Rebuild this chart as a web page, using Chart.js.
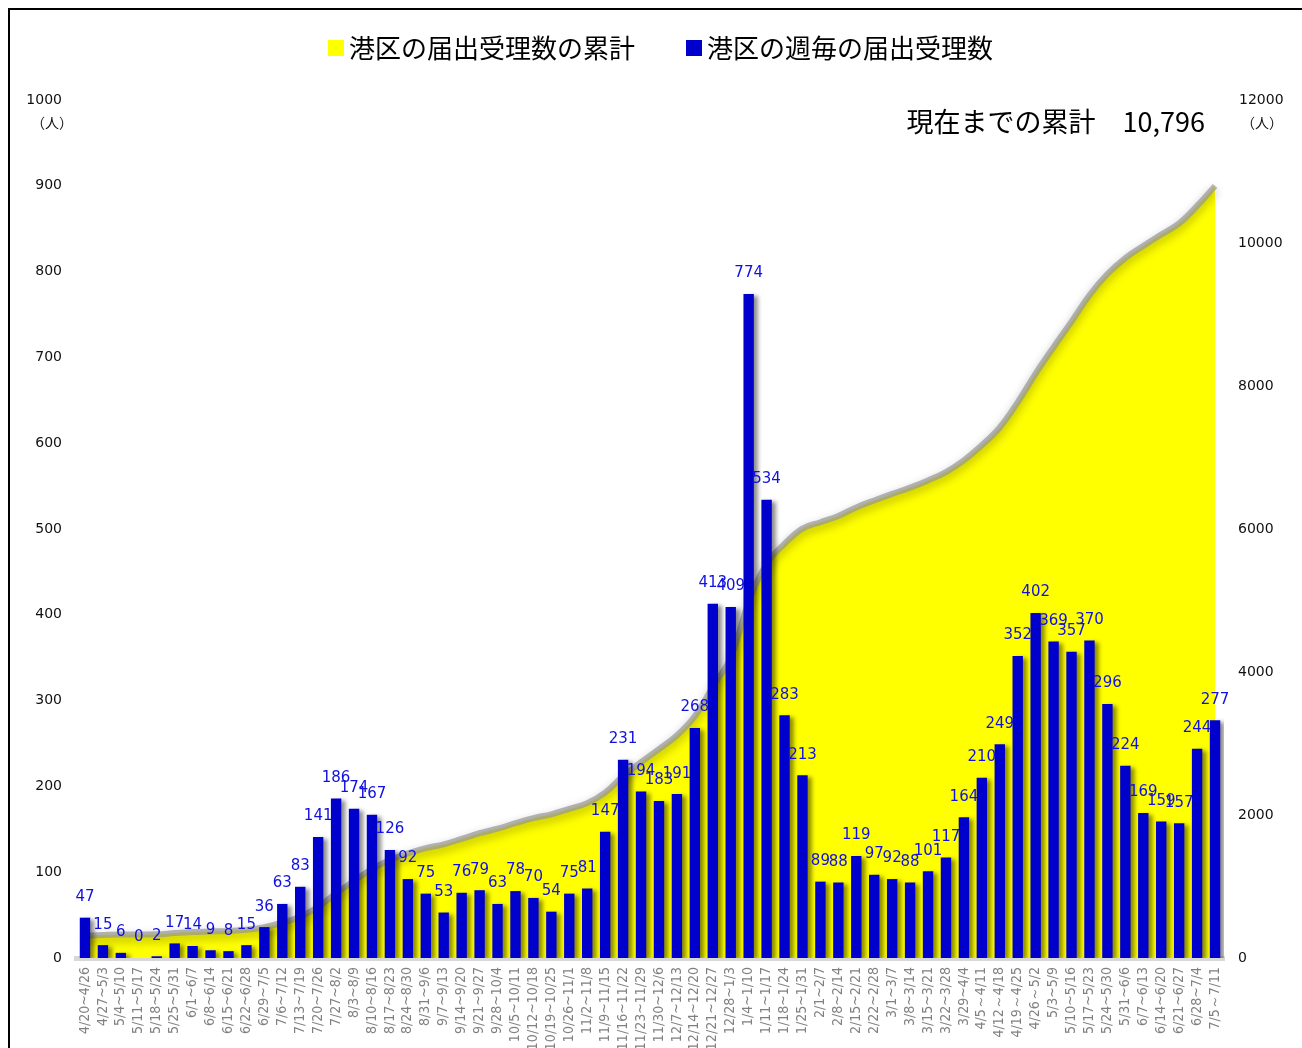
<!DOCTYPE html>
<html>
<head>
<meta charset="utf-8">
<script src="https://cdn.jsdelivr.net/npm/chart.js@4.4.1/dist/chart.umd.min.js"></script>
<style>
  body { margin: 0; background: #fff; }
  #wrap { position: relative; width: 1302px; height: 1048px; }
</style>
</head>
<body>
<div id="wrap"><canvas id="minatoChart" width="1302" height="1048"></canvas></div>
<script>
// 週ラベル
var weeks = [
  "4/20~4/26","4/27~5/3","5/4~5/10","5/11~5/17","5/18~5/24","5/25~5/31","6/1~6/7","6/8~6/14",
  "6/15~6/21","6/22~6/28","6/29~7/5","7/6~7/12","7/13~7/19","7/20~7/26","7/27~8/2","8/3~8/9",
  "8/10~8/16","8/17~8/23","8/24~8/30","8/31~9/6","9/7~9/13","9/14~9/20","9/21~9/27","9/28~10/4",
  "10/5~10/11","10/12~10/18","10/19~10/25","10/26~11/1","11/2~11/8","11/9~11/15","11/16~11/22","11/23~11/29",
  "11/30~12/6","12/7~12/13","12/14~12/20","12/21~12/27","12/28~1/3","1/4~1/10","1/11~1/17","1/18~1/24",
  "1/25~1/31","2/1~2/7","2/8~2/14","2/15~2/21","2/22~2/28","3/1~3/7","3/8~3/14","3/15~3/21",
  "3/22~3/28","3/29~4/4","4/5～4/11","4/12～4/18","4/19～4/25","4/26～5/2","5/3~5/9","5/10~5/16",
  "5/17~5/23","5/24~5/30","5/31~6/6","6/7~6/13","6/14~6/20","6/21~6/27","6/28~7/4","7/5～7/11"
];

// 週毎の届出受理数
var weekly = [
  47,15,6,0,2,17,14,9,8,15,
  36,63,83,141,186,174,167,126,92,75,
  53,76,79,63,78,70,54,75,81,147,
  231,194,183,191,268,413,409,774,534,283,
  213,89,88,119,97,92,88,101,117,164,
  210,249,352,402,369,357,370,296,224,169,
  159,157,244,277
];

// 届出受理数の累計
var cumulative = [
  308,323,329,329,331,348,362,371,379,394,
  430,493,576,717,903,1077,1244,1370,1462,1537,
  1590,1666,1745,1808,1886,1956,2010,2085,2166,2313,
  2544,2738,2921,3112,3380,3793,4202,4976,5510,5793,
  6006,6095,6183,6302,6399,6491,6579,6680,6797,6961,
  7171,7420,7772,8174,8543,8900,9270,9566,9790,9959,
  10118,10275,10519,10796
];

var leftTicks = [0, 1000, 100];    // min, max, step
var rightTicks = [0, 12000, 2000];
var totalText = "現在までの累計　10,796";

var jpFont = "'Noto Sans CJK JP', sans-serif";

// 影・ラベル・凡例など
var decoPlugin = {
  id: 'deco',
  beforeDatasetDraw: function(chart, args) {
    var ctx = chart.ctx;
    ctx.save();
    if (args.index === 0) {
      ctx.shadowColor = 'rgba(0,0,0,0.45)';
      ctx.shadowBlur = 4;
      ctx.shadowOffsetX = 4;
      ctx.shadowOffsetY = 2;
    } else {
      ctx.shadowColor = 'rgba(0,0,0,0.4)';
      ctx.shadowBlur = 10;
      ctx.shadowOffsetY = 4;
    }
  },
  afterDatasetDraw: function(chart) {
    chart.ctx.restore();
  },
  afterDatasetsDraw: function(chart) {
    var ctx = chart.ctx;
    var meta = chart.getDatasetMeta(0);
    ctx.save();
    ctx.fillStyle = '#1010e0';
    ctx.font = "15px 'DejaVu Sans', sans-serif";
    ctx.textAlign = 'center';
    ctx.textBaseline = 'bottom';
    meta.data.forEach(function(bar, i) {
      ctx.fillText(String(weekly[i]), bar.x, bar.y - 13);
    });
    ctx.restore();
  },
  afterDraw: function(chart) {
    var ctx = chart.ctx;
    ctx.save();
    // 枠線
    ctx.strokeStyle = '#000';
    ctx.lineWidth = 2;
    ctx.beginPath();
    ctx.moveTo(9, 1048);
    ctx.lineTo(9, 9);
    ctx.lineTo(1302, 9);
    ctx.stroke();

    // 凡例
    ctx.textBaseline = 'middle';
    ctx.textAlign = 'left';
    ctx.font = "26px " + jpFont;
    ctx.fillStyle = '#ffff00';
    ctx.fillRect(328, 40, 16, 16);
    ctx.fillStyle = '#000';
    ctx.fillText('港区の届出受理数の累計', 349, 48);
    ctx.fillStyle = '#0000cc';
    ctx.fillRect(686, 40, 16, 16);
    ctx.fillStyle = '#000';
    ctx.fillText('港区の週毎の届出受理数', 707, 48);

    // 累計テキスト
    ctx.font = "27px " + jpFont;
    ctx.textAlign = 'right';
    ctx.fillText(totalText, 1205, 122);

    // 軸の上端ラベル
    var yTop = chart.scales.y.getPixelForValue(leftTicks[1]);
    ctx.font = "14px 'DejaVu Sans', sans-serif";
    ctx.fillStyle = '#111';
    ctx.textAlign = 'right';
    ctx.fillText(String(leftTicks[1]), 62, yTop);
    ctx.textAlign = 'left';
    ctx.fillText(String(rightTicks[1]), 1239, yTop);
    ctx.font = "14px " + jpFont;
    ctx.textAlign = 'center';
    ctx.fillText('（人）', 52, 123);
    ctx.fillText('（人）', 1262, 123);
    ctx.restore();
  }
};

var ctx = document.getElementById('minatoChart');
var myChart = new Chart(ctx, {
  type: 'bar',
  data: {
    labels: weeks,
    datasets: [
      {
        type: 'bar',
        label: '港区の週毎の届出受理数',
        data: weekly,
        yAxisID: 'y',
        backgroundColor: '#0000cc',
        borderWidth: 0,
        barPercentage: 0.58,
        categoryPercentage: 1.0,
        order: 1
      },
      {
        type: 'line',
        label: '港区の届出受理数の累計',
        data: cumulative,
        yAxisID: 'y1',
        backgroundColor: '#ffff00',
        borderColor: 'rgba(150,150,150,0.7)',
        borderWidth: 6,
        pointRadius: 0,
        tension: 0.4,
        fill: 'origin',
        order: 2
      }
    ]
  },
  options: {
    responsive: false,
    animation: false,
    devicePixelRatio: 1,
    layout: { padding: { top: 100, left: 0, right: 0, bottom: 0 } },
    plugins: {
      legend: { display: false },
      tooltip: { enabled: false }
    },
    scales: {
      x: {
        grid: { display: false, drawTicks: false },
        border: { display: true, color: '#d8d8d8', width: 5 },
        ticks: {
          autoSkip: false,
          minRotation: 90,
          maxRotation: 90,
          padding: 9,
          color: '#808080',
          font: { size: 14, family: "'DejaVu Sans Condensed', 'Liberation Sans Narrow', sans-serif" }
        },
        afterFit: function(scale) { scale.height = 90; }
      },
      y: {
        position: 'left',
        min: leftTicks[0],
        max: leftTicks[1],
        grid: { display: false, drawTicks: false },
        border: { display: false },
        ticks: {
          stepSize: leftTicks[2],
          padding: 14,
          color: '#111',
          font: { size: 14, family: "'DejaVu Sans', sans-serif" },
          callback: function(v) { return v === leftTicks[1] ? '' : v; }
        },
        afterFit: function(scale) { scale.width = 76; }
      },
      y1: {
        position: 'right',
        min: rightTicks[0],
        max: rightTicks[1],
        grid: { display: false, drawTicks: false },
        border: { display: false },
        ticks: {
          stepSize: rightTicks[2],
          padding: 14,
          color: '#111',
          font: { size: 14, family: "'DejaVu Sans', sans-serif" },
          callback: function(v) { return v === rightTicks[1] ? '' : v; }
        },
        afterFit: function(scale) { scale.width = 78; }
      }
    }
  },
  plugins: [decoPlugin]
});
</script>
</body>
</html>
